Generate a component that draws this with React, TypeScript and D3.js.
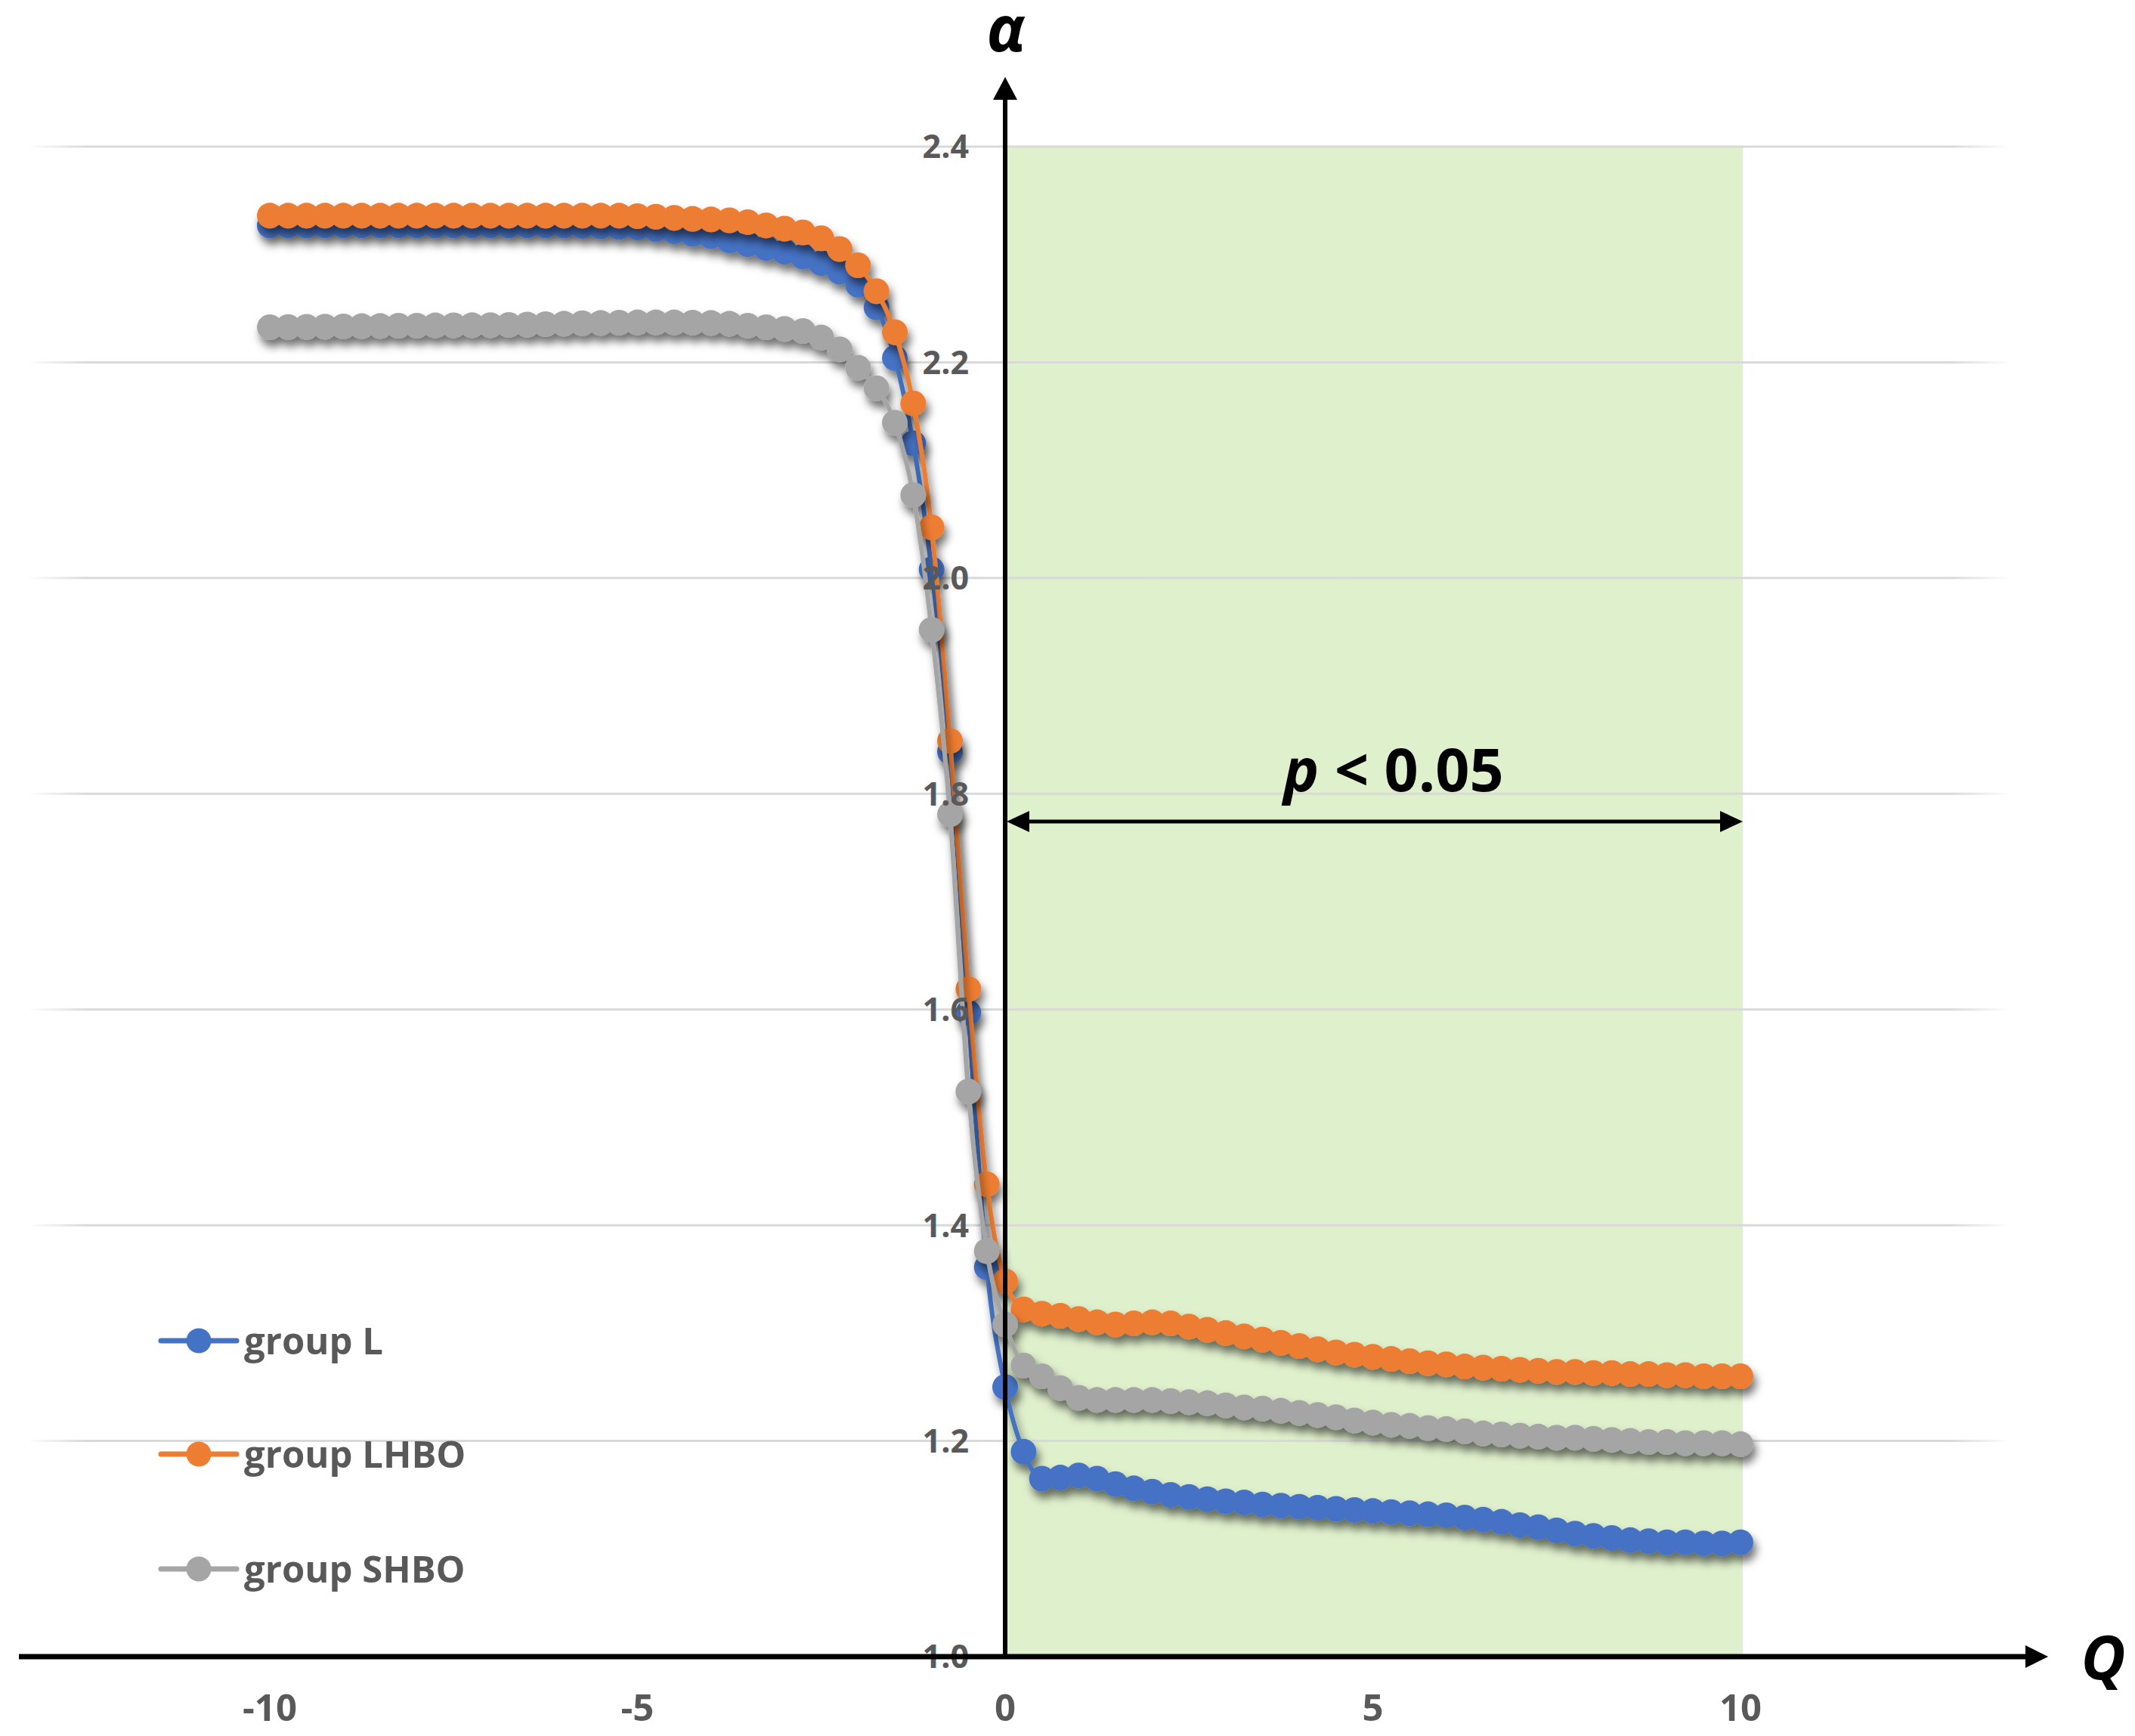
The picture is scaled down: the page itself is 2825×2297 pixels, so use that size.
import React from "react";
import * as d3 from "d3";

// ---------------- DATA ----------------
const qValues = [
  -10, -9.75, -9.5, -9.25, -9, -8.75, -8.5, -8.25, -8, -7.75, -7.5, -7.25, -7, -6.75, -6.5, -6.25,
  -6, -5.75, -5.5, -5.25, -5, -4.75, -4.5, -4.25, -4, -3.75, -3.5, -3.25, -3, -2.75, -2.5, -2.25,
  -2, -1.75, -1.5, -1.25, -1, -0.75, -0.5, -0.25, 0, 0.25, 0.5, 0.75, 1, 1.25, 1.5, 1.75,
  2, 2.25, 2.5, 2.75, 3, 3.25, 3.5, 3.75, 4, 4.25, 4.5, 4.75, 5, 5.25, 5.5, 5.75,
  6, 6.25, 6.5, 6.75, 7, 7.25, 7.5, 7.75, 8, 8.25, 8.5, 8.75, 9, 9.25, 9.5, 9.75, 10,
];

const groupL = [
  2.327, 2.327, 2.327, 2.327, 2.327, 2.327, 2.327, 2.327, 2.327, 2.327, 2.327, 2.327, 2.327, 2.327, 2.327, 2.327,
  2.327, 2.3265, 2.326, 2.3255, 2.325, 2.3235, 2.3215, 2.319, 2.317, 2.313, 2.3095, 2.306, 2.3025, 2.298, 2.292, 2.284,
  2.272, 2.251, 2.204, 2.125, 2.008, 1.839, 1.597, 1.361, 1.25, 1.19, 1.165, 1.166, 1.168, 1.165, 1.16, 1.156,
  1.153, 1.15, 1.148, 1.146, 1.144, 1.143, 1.141, 1.14, 1.139, 1.138, 1.137, 1.136, 1.135, 1.134, 1.133, 1.132,
  1.131, 1.129, 1.127, 1.125, 1.122, 1.12, 1.117, 1.114, 1.112, 1.11, 1.108, 1.107, 1.106, 1.106, 1.105, 1.105, 1.106,
];

const groupLHBO = [
  2.336, 2.336, 2.336, 2.336, 2.336, 2.336, 2.336, 2.336, 2.336, 2.336, 2.336, 2.336, 2.336, 2.336, 2.336, 2.336,
  2.336, 2.336, 2.336, 2.336, 2.3355, 2.335, 2.334, 2.333, 2.3325, 2.3317, 2.33, 2.327, 2.324, 2.3205, 2.315, 2.305,
  2.29, 2.266, 2.228, 2.162, 2.047, 1.849, 1.619, 1.438, 1.348, 1.322, 1.318, 1.316, 1.313, 1.31, 1.308, 1.309,
  1.31, 1.309, 1.306, 1.303, 1.3, 1.297, 1.294, 1.291, 1.288, 1.285, 1.282, 1.28, 1.278, 1.276, 1.274, 1.272,
  1.271, 1.269, 1.268, 1.267, 1.266, 1.265, 1.264, 1.264, 1.263, 1.263, 1.262, 1.262, 1.261, 1.261, 1.26, 1.26, 1.26,
];

const groupSHBO = [
  2.2325, 2.2327, 2.2329, 2.2331, 2.2333, 2.2335, 2.2337, 2.2339, 2.234, 2.2342, 2.2343, 2.2344, 2.2345, 2.2347, 2.235, 2.2354,
  2.2358, 2.2362, 2.2365, 2.2368, 2.237, 2.237, 2.237, 2.2368, 2.2365, 2.2358, 2.234, 2.2325, 2.231, 2.229, 2.223, 2.212,
  2.195, 2.176, 2.144, 2.077, 1.952, 1.781, 1.524, 1.376, 1.308, 1.27, 1.26, 1.249, 1.24, 1.238, 1.238, 1.238,
  1.238, 1.237, 1.236, 1.235, 1.233, 1.231, 1.23, 1.228, 1.226, 1.224, 1.222, 1.219, 1.217, 1.215, 1.214, 1.212,
  1.211, 1.209, 1.207, 1.206, 1.205, 1.204, 1.203, 1.203, 1.202, 1.201, 1.2, 1.199, 1.199, 1.198, 1.198, 1.198, 1.197,
];

const seriesNames = ["group L", "group LHBO", "group SHBO"];
const seriesColors = ["#4472C4", "#ED7D31", "#A5A5A5"];
const seriesValues = [groupL, groupLHBO, groupSHBO];

const yTicks = [1.0, 1.2, 1.4, 1.6, 1.8, 2.0, 2.2, 2.4];
const xTicks = [-10, -5, 0, 5, 10];
const sigRange = [0, 10];
const sigLabel = "0.05";

// ---------------- LAYOUT ----------------
const W = 2825;
const H = 2297;
const FONT = "'Open Sans', 'DejaVu Sans', sans-serif";
const LABEL_COLOR = "#595959";

export default function App() {
  const x = d3.scaleLinear().domain([-10, 10]).range([357, 2303]);
  const y = d3.scaleLinear().domain([1.0, 2.4]).range([2192, 194]);

  const x0 = x(0);
  const yBase = y(1.0);

  const line = d3
    .line<number>()
    .x((_, i) => x(qValues[i]))
    .y((d) => y(d))
    .curve(d3.curveMonotoneX);

  const legendRows = [1774, 1924, 2076];
  const arrowY = 1087;
  const sigL = x(sigRange[0]);
  const sigR = x(sigRange[1]) + 3;

  return (
    <svg
      width={W}
      height={H}
      viewBox={`0 0 ${W} ${H}`}
      style={{ position: "absolute", left: 0, top: 0, background: "#fff" }}
    >
      <defs>
        <filter id="shadow" x="-10%" y="-10%" width="120%" height="130%">
          <feDropShadow dx="4" dy="9" stdDeviation="6" floodColor="#000" floodOpacity="0.55" />
        </filter>
        <linearGradient id="gridFade" gradientUnits="userSpaceOnUse" x1="36" y1="0" x2="2660" y2="0">
          <stop offset="0" stopColor="#D9D9D9" stopOpacity="0" />
          <stop offset="0.03" stopColor="#D9D9D9" stopOpacity="1" />
          <stop offset="0.97" stopColor="#D9D9D9" stopOpacity="1" />
          <stop offset="1" stopColor="#D9D9D9" stopOpacity="0" />
        </linearGradient>
      </defs>
      <rect x={0} y={0} width={W} height={H} fill="#fff" />

      {/* significance region */}
      <rect x={sigL} y={y(2.4)} width={sigR - sigL} height={y(1.0) - y(2.4)} fill="#DFF0CC" />

      {/* gridlines */}
      {yTicks
        .filter((t) => t > 1.0)
        .map((t) => (
          <line key={t} x1={36} x2={2660} y1={y(t)} y2={y(t)} stroke="url(#gridFade)" strokeWidth={3} />
        ))}

      {/* series */}
      {seriesValues.map((vals, si) => (
        <g key={si} filter="url(#shadow)">
          <path d={line(vals) || ""} fill="none" stroke={seriesColors[si]} strokeWidth={6} />
          {vals.map((v, i) => (
            <circle key={i} cx={x(qValues[i])} cy={y(v)} r={17} fill={seriesColors[si]} />
          ))}
        </g>
      ))}

      {/* y tick labels */}
      {yTicks.map((t) => (
        <text
          key={t}
          x={x0 - 48}
          y={y(t)}
          dy="0.36em"
          textAnchor="end"
          fontFamily={FONT}
          fontWeight={700}
          fontSize={43}
          fill={LABEL_COLOR}
        >
          {t.toFixed(1)}
        </text>
      ))}

      {/* x tick labels */}
      {xTicks.map((t) => (
        <text
          key={t}
          x={x(t)}
          y={2277}
          textAnchor="middle"
          fontFamily={FONT}
          fontWeight={700}
          fontSize={49}
          fill={LABEL_COLOR}
        >
          {t}
        </text>
      ))}

      {/* axes */}
      <line x1={25} x2={2684} y1={yBase} y2={yBase} stroke="#000" strokeWidth={7} />
      <polygon points={`2710,${yBase} 2680,${yBase - 15} 2680,${yBase + 15}`} fill="#000" />
      <line x1={x0} x2={x0} y1={yBase} y2={128} stroke="#000" strokeWidth={6} />
      <polygon points={`${x0},102 ${x0 - 16},132 ${x0 + 16},132`} fill="#000" />

      <text
        x={x0 + 1}
        y={68}
        textAnchor="middle"
        fontFamily={FONT}
        fontWeight={700}
        fontStyle="italic"
        fontSize={84}
        fill="#000"
      >
        α
      </text>
      <text
        x={2783}
        y={2222}
        textAnchor="middle"
        fontFamily={FONT}
        fontWeight={700}
        fontStyle="italic"
        fontSize={81}
        fill="#000"
      >
        Q
      </text>

      {/* significance double arrow */}
      <line x1={sigL + 20} x2={sigR - 20} y1={arrowY} y2={arrowY} stroke="#000" strokeWidth={5} />
      <polygon points={`${sigL + 2},${arrowY} ${sigL + 32},${arrowY - 14} ${sigL + 32},${arrowY + 14}`} fill="#000" />
      <polygon points={`${sigR},${arrowY} ${sigR - 30},${arrowY - 14} ${sigR - 30},${arrowY + 14}`} fill="#000" />
      <text
        x={(sigL + sigR) / 2 + 26}
        y={1047}
        textAnchor="middle"
        fontFamily={FONT}
        fontWeight={700}
        fontSize={79}
        fill="#000"
      >
        <tspan fontStyle="italic">p</tspan>
        <tspan>{` < ${sigLabel}`}</tspan>
      </text>

      {/* legend */}
      {seriesNames.map((name, i) => (
        <g key={name}>
          <line x1={213} x2={313} y1={legendRows[i]} y2={legendRows[i]} stroke={seriesColors[i]} strokeWidth={7} strokeLinecap="round" />
          <circle cx={263} cy={legendRows[i]} r={16.5} fill={seriesColors[i]} />
          <text
            x={323}
            y={legendRows[i] + 18}
            fontFamily={FONT}
            fontWeight={700}
            fontSize={49}
            fill={LABEL_COLOR}
          >
            {name}
          </text>
        </g>
      ))}
    </svg>
  );
}
